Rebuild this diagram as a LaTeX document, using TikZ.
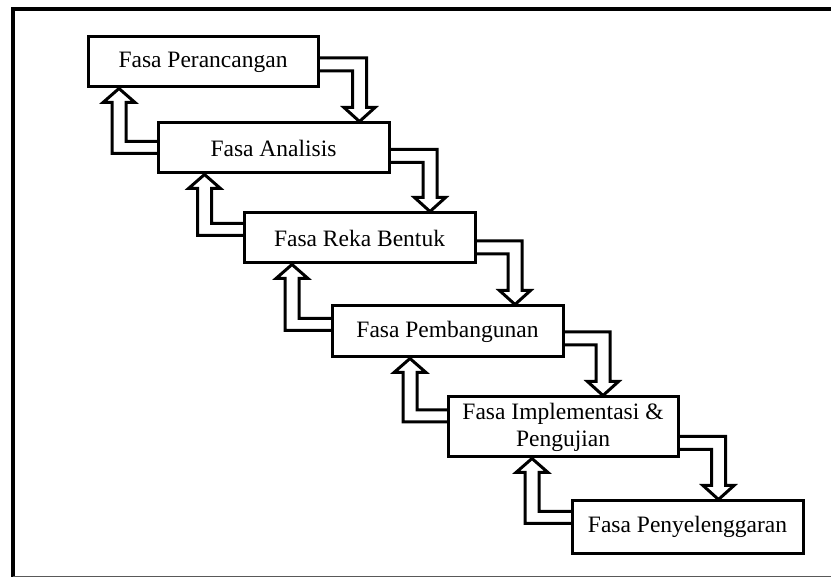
\documentclass[tikz,border=0pt]{standalone}
\usepackage{fontspec}
\setmainfont{Liberation Serif}
\usetikzlibrary{calc,backgrounds}
\tikzset{
  phase/.style={draw=black, line width=3pt, fill=white, inner sep=0pt,
    font=\fontsize{23.5}{27}\selectfont, align=center},
  hollow/.style={draw=black, line width=3pt, fill=white, line join=miter},
}
% down arrow: #1 from node, #2 to node, #3 x of shaft, #4 y of channel
\newcommand\dnarr[4]{%
  \draw[hollow] let \p1=(#1.east), \p2=(#2.north), \p3=(#3,#4) in
    (\x1-6pt,\y3+6.5pt) -- (\x3+7pt,\y3+6.5pt) -- (\x3+7pt,\y2+14pt)
    -- (\x3+15.5pt,\y2+14pt) -- (\x3,\y2) -- (\x3-15.5pt,\y2+14pt)
    -- (\x3-7pt,\y2+14pt) -- (\x3-7pt,\y3-6.5pt) -- (\x1-6pt,\y3-6.5pt);}
% up arrow: #1 from node (lower), #2 to node (upper), #3 x of shaft, #4 y of channel
\newcommand\uparr[4]{%
  \draw[hollow] let \p1=(#1.west), \p2=(#2.south), \p3=(#3,#4) in
    (\x1+6pt,\y3-6pt) -- (\x3-7pt,\y3-6pt) -- (\x3-7pt,\y2-14pt)
    -- (\x3-16pt,\y2-14pt) -- (\x3,\y2) -- (\x3+16pt,\y2-14pt)
    -- (\x3+7pt,\y2-14pt) -- (\x3+7pt,\y3+6pt) -- (\x1+6pt,\y3+6pt);}
\begin{document}
\begin{tikzpicture}[x=1pt,y=-1pt]
\useasboundingbox (0,0) rectangle (831,577);
% frame
\draw[line width=3.5pt] (13,577) -- (13,9) -- (831,9);
\draw[line width=1.2pt, black!65] (13,576.4) -- (831,576.4);
% phases
\node[phase, minimum width=230pt, minimum height=50pt] (b1) at (203,62) {Fasa Perancangan};
\node[phase, minimum width=231pt, minimum height=50pt] (b2) at (273.5,148) {Fasa Analisis};
\node[phase, minimum width=231pt, minimum height=50pt] (b3) at (359.5,238) {Fasa Reka Bentuk};
\node[phase, minimum width=231pt, minimum height=51pt] (b4) at (447.5,331.5) {Fasa Pembangunan};
\node[phase, minimum width=230pt, minimum height=60pt] (b5) at (563,427) {Fasa Implementasi \&\\Pengujian};
\node[phase, minimum width=231pt, minimum height=52pt] (b6) at (687.5,527) {Fasa Penyelenggaran};
\begin{scope}[on background layer]
\dnarr{b1}{b2}{359.5}{64.5}
\dnarr{b2}{b3}{430}{156}
\dnarr{b3}{b4}{515}{247.5}
\dnarr{b4}{b5}{603}{338.5}
\dnarr{b5}{b6}{718.5}{443}
\uparr{b2}{b1}{119}{147.5}
\uparr{b3}{b2}{204.5}{229.5}
\uparr{b4}{b3}{292}{324.5}
\uparr{b5}{b4}{410}{416}
\uparr{b6}{b5}{532}{517.5}
\end{scope}
\end{tikzpicture}
\end{document}
